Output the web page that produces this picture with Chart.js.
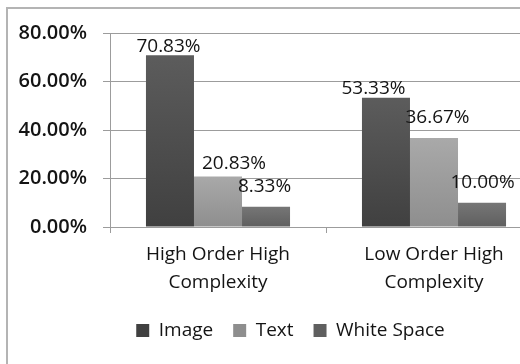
<!DOCTYPE html>
<html>
<head>
<meta charset="utf-8">
<title>Layout share by page type</title>
<script src="https://cdn.jsdelivr.net/npm/chart.js@4.4.1/dist/chart.umd.min.js"></script>
<style>
  html, body { margin: 0; padding: 0; background: #ffffff; overflow: hidden; }
  #wrap { position: absolute; left: 0; top: 0; width: 581px; height: 364px; }
</style>
</head>
<body>
<div id="wrap"><canvas id="chart" width="581" height="364"></canvas></div>
<script>
// Categories (two-line axis labels) and series
const categories = [['High Order High', 'Complexity'], ['Low Order High', 'Complexity']];
const seriesNames = ['Image', 'Text', 'White Space'];

// Share of each page area, in percent
const imageShare = [70.83, 53.33];
const textShare = [20.83, 36.67];
const whiteSpaceShare = [8.33, 10.00];

// Value axis
const yMin = 0;
const yMax = 80;
const yStep = 20;

// Fill shades per series: [top, bottom, legend]
const shades = [
  ['#5c5c5c', '#404040', '#4e4e4e'],
  ['#a9a9a9', '#8e8e8e', '#9c9c9c'],
  ['#767676', '#5f5f5f', '#6a6a6a']
];

// Value-label placement: horizontal nudge and lift of the baseline above the bar top
const labelNudge = [
  [{ dx: -1.5, lift: 3 }, { dx: -12.5, lift: 4 }],
  [{ dx: 16, lift: 7 }, { dx: 3.5, lift: 15.5 }],
  [{ dx: -1.5, lift: 15 }, { dx: 0.5, lift: 14.5 }]
];

const textColor = '#141414';
const gridColor = '#9c9c9c';

function barFill(seriesIndex) {
  return function (ctx) {
    const s = shades[seriesIndex];
    if (ctx.type !== 'data') return s[2];
    const chart = ctx.chart;
    const y = chart.scales && chart.scales.y;
    if (!y || !chart.chartArea) return s[2];
    const top = y.getPixelForValue(ctx.raw);
    const bottom = y.getPixelForValue(0);
    if (!isFinite(top) || !isFinite(bottom) || top === bottom) return s[2];
    const g = chart.ctx.createLinearGradient(0, top, 0, bottom);
    g.addColorStop(0, s[0]);
    g.addColorStop(1, s[1]);
    return g;
  };
}

// White page with a grey frame around the chart
const framePlugin = {
  id: 'frame',
  beforeDraw(chart) {
    const c = chart.ctx;
    c.save();
    c.fillStyle = '#ffffff';
    c.fillRect(0, 0, chart.width, chart.height);
    c.strokeStyle = '#b4b4b4';
    c.lineWidth = 2;
    c.strokeRect(7, 8, chart.width + 40, chart.height + 40);
    c.restore();
  }
};

// Value labels above each bar
const valueLabelPlugin = {
  id: 'valueLabels',
  afterDatasetsDraw(chart) {
    const c = chart.ctx;
    c.save();
    c.font = '19px "Open Sans", sans-serif';
    c.fillStyle = textColor;
    c.textAlign = 'center';
    c.textBaseline = 'alphabetic';
    chart.data.datasets.forEach((ds, di) => {
      const meta = chart.getDatasetMeta(di);
      meta.data.forEach((bar, i) => {
        const v = ds.data[i];
        const n = labelNudge[di][i];
        c.fillText(v.toFixed(2) + '%', bar.x + n.dx, bar.y - n.lift);
      });
    });
    c.restore();
  }
};

new Chart(document.getElementById('chart'), {
  type: 'bar',
  data: {
    labels: categories,
    datasets: [
      { label: seriesNames[0], data: imageShare, backgroundColor: barFill(0) },
      { label: seriesNames[1], data: textShare, backgroundColor: barFill(1) },
      { label: seriesNames[2], data: whiteSpaceShare, backgroundColor: barFill(2) }
    ]
  },
  options: {
    responsive: false,
    animation: false,
    events: [],
    layout: { padding: { top: 33, left: 0, right: 0, bottom: 14 } },
    datasets: {
      bar: { categoryPercentage: 0.667, barPercentage: 1.0, borderWidth: 0 }
    },
    scales: {
      x: {
        offset: true,
        grid: {
          offset: true,
          drawOnChartArea: false,
          drawTicks: true,
          tickLength: 6,
          color: gridColor
        },
        border: { display: true, color: gridColor, width: 1 },
        ticks: {
          color: textColor,
          padding: 7,
          maxRotation: 0,
          autoSkip: false,
          font: { family: '"Open Sans", sans-serif', size: 19, weight: '500', lineHeight: 1.5 }
        },
        afterFit(scale) { scale.height = 74; }
      },
      y: {
        min: yMin,
        max: yMax,
        position: 'left',
        grid: { color: gridColor, lineWidth: 1, tickLength: 7 },
        border: { display: true, color: gridColor, width: 1 },
        ticks: {
          stepSize: yStep,
          color: textColor,
          padding: 16,
          font: { family: '"Open Sans", sans-serif', size: 20, weight: '600' },
          callback: v => Number(v).toFixed(2) + '%'
        },
        afterFit(scale) { scale.width = 110; }
      },
      spare: {
        position: 'right',
        display: true,
        grid: { display: false, drawTicks: false },
        border: { display: false },
        ticks: { display: false },
        afterFit(scale) { scale.width = 39; }
      }
    },
    plugins: {
      legend: {
        display: true,
        position: 'bottom',
        align: 'center',
        labels: {
          color: textColor,
          boxWidth: 13,
          boxHeight: 13,
          padding: 20,
          font: { family: '"Open Sans", sans-serif', size: 19, weight: '500' }
        }
      },
      tooltip: { enabled: false },
      title: { display: false }
    }
  },
  plugins: [framePlugin, valueLabelPlugin]
});
</script>
</body>
</html>
